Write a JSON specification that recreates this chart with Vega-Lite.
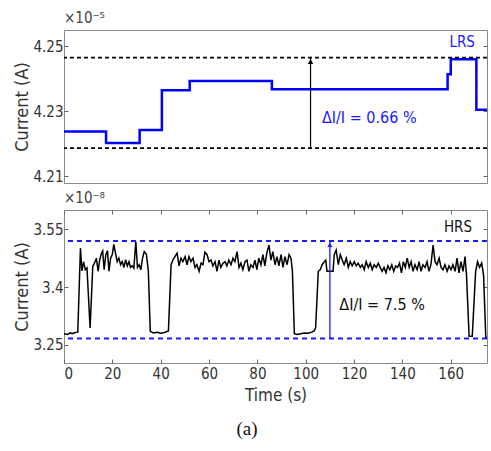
{
  "$schema": "https://vega.github.io/schema/vega-lite/v6.json",
  "padding": {"left": 13, "top": 10, "right": 1, "bottom": 5},
  "spacing": 5,
  "title": {"text": "(a)", "orient": "bottom", "font": "Liberation Serif", "fontSize": 19, "fontWeight": "normal", "color": "#111", "anchor": "middle", "dx": -4, "offset": 16},
  "datasets": {
    "lrs": [
      {"t": 0, "I": 4.2238}, {"t": 17.4, "I": 4.2203}, {"t": 31.3, "I": 4.2243}, {"t": 40.5, "I": 4.2365},
      {"t": 52, "I": 4.2393}, {"t": 86, "I": 4.2368}, {"t": 158.7, "I": 4.2414}, {"t": 160, "I": 4.246},
      {"t": 170.6, "I": 4.2305}, {"t": 175, "I": 4.2305}
    ],
    "hrs": [
      {"t": 0, "I": 3.279}, {"t": 1.5, "I": 3.277}, {"t": 2.5, "I": 3.281}, {"t": 3.5, "I": 3.279}, {"t": 4.5, "I": 3.282},
      {"t": 5.7, "I": 3.283}, {"t": 6.8, "I": 3.501}, {"t": 7.4, "I": 3.442}, {"t": 8.1, "I": 3.466}, {"t": 8.8, "I": 3.445},
      {"t": 9.5, "I": 3.45}, {"t": 10.8, "I": 3.294}, {"t": 11.9, "I": 3.454}, {"t": 12.6, "I": 3.462}, {"t": 13.4, "I": 3.475},
      {"t": 14.1, "I": 3.441}, {"t": 14.8, "I": 3.471}, {"t": 15.5, "I": 3.488}, {"t": 16.0, "I": 3.494}, {"t": 16.6, "I": 3.445},
      {"t": 17.3, "I": 3.484}, {"t": 18.0, "I": 3.494}, {"t": 18.6, "I": 3.441}, {"t": 19.3, "I": 3.475}, {"t": 20.0, "I": 3.485},
      {"t": 20.6, "I": 3.511}, {"t": 21.3, "I": 3.488}, {"t": 22.0, "I": 3.466}, {"t": 22.7, "I": 3.475}, {"t": 23.4, "I": 3.458},
      {"t": 24.1, "I": 3.466}, {"t": 24.8, "I": 3.451}, {"t": 25.5, "I": 3.471}, {"t": 26.2, "I": 3.455}, {"t": 26.9, "I": 3.466},
      {"t": 27.5, "I": 3.451}, {"t": 28.2, "I": 3.455}, {"t": 28.9, "I": 3.449}, {"t": 29.7, "I": 3.518}, {"t": 30.4, "I": 3.451},
      {"t": 31.1, "I": 3.458}, {"t": 31.8, "I": 3.445}, {"t": 32.5, "I": 3.475}, {"t": 33.2, "I": 3.492}, {"t": 34.1, "I": 3.485},
      {"t": 34.9, "I": 3.441}, {"t": 35.7, "I": 3.285}, {"t": 37.0, "I": 3.281}, {"t": 38.5, "I": 3.283}, {"t": 40.0, "I": 3.28},
      {"t": 41.5, "I": 3.282}, {"t": 43.2, "I": 3.286}, {"t": 44.3, "I": 3.458}, {"t": 45.1, "I": 3.471}, {"t": 45.9, "I": 3.479},
      {"t": 46.8, "I": 3.488}, {"t": 47.6, "I": 3.455}, {"t": 48.4, "I": 3.475}, {"t": 49.2, "I": 3.466}, {"t": 50.1, "I": 3.479},
      {"t": 50.9, "I": 3.458}, {"t": 51.7, "I": 3.479}, {"t": 52.5, "I": 3.466}, {"t": 53.4, "I": 3.475}, {"t": 54.2, "I": 3.451},
      {"t": 55.0, "I": 3.458}, {"t": 55.9, "I": 3.441}, {"t": 56.7, "I": 3.462}, {"t": 57.5, "I": 3.458}, {"t": 58.3, "I": 3.4905},
      {"t": 59.2, "I": 3.484}, {"t": 60.0, "I": 3.466}, {"t": 60.8, "I": 3.47}, {"t": 61.6, "I": 3.455}, {"t": 62.5, "I": 3.466},
      {"t": 63.3, "I": 3.441}, {"t": 64.1, "I": 3.47}, {"t": 64.9, "I": 3.451}, {"t": 65.8, "I": 3.462}, {"t": 66.6, "I": 3.466},
      {"t": 67.4, "I": 3.455}, {"t": 68.2, "I": 3.47}, {"t": 69.1, "I": 3.458}, {"t": 69.9, "I": 3.475}, {"t": 70.7, "I": 3.466},
      {"t": 71.6, "I": 3.492}, {"t": 72.4, "I": 3.451}, {"t": 73.2, "I": 3.462}, {"t": 74.0, "I": 3.445}, {"t": 74.9, "I": 3.466},
      {"t": 75.7, "I": 3.47}, {"t": 76.5, "I": 3.441}, {"t": 77.3, "I": 3.458}, {"t": 78.2, "I": 3.451}, {"t": 79.0, "I": 3.47},
      {"t": 79.8, "I": 3.445}, {"t": 80.6, "I": 3.475}, {"t": 81.5, "I": 3.458}, {"t": 82.3, "I": 3.484}, {"t": 83.1, "I": 3.455},
      {"t": 83.9, "I": 3.488}, {"t": 84.8, "I": 3.509}, {"t": 85.6, "I": 3.47}, {"t": 86.4, "I": 3.492}, {"t": 87.3, "I": 3.458},
      {"t": 88.1, "I": 3.479}, {"t": 88.9, "I": 3.455}, {"t": 89.8, "I": 3.484}, {"t": 90.6, "I": 3.451}, {"t": 91.4, "I": 3.479},
      {"t": 92.3, "I": 3.458}, {"t": 93.1, "I": 3.484}, {"t": 93.9, "I": 3.475}, {"t": 94.5, "I": 3.441}, {"t": 95.3, "I": 3.279},
      {"t": 96.5, "I": 3.277}, {"t": 98.0, "I": 3.279}, {"t": 99.5, "I": 3.281}, {"t": 101.0, "I": 3.28}, {"t": 102.5, "I": 3.283},
      {"t": 103.5, "I": 3.286}, {"t": 104.1, "I": 3.294}, {"t": 105.2, "I": 3.441}, {"t": 106.0, "I": 3.445}, {"t": 106.8, "I": 3.458},
      {"t": 107.7, "I": 3.466}, {"t": 108.3, "I": 3.47}, {"t": 108.8, "I": 3.441}, {"t": 111.3, "I": 3.441}, {"t": 111.8, "I": 3.484},
      {"t": 112.6, "I": 3.496}, {"t": 113.5, "I": 3.458}, {"t": 114.3, "I": 3.484}, {"t": 115.1, "I": 3.47}, {"t": 115.9, "I": 3.458},
      {"t": 116.8, "I": 3.475}, {"t": 117.6, "I": 3.451}, {"t": 118.4, "I": 3.466}, {"t": 119.2, "I": 3.455}, {"t": 120.1, "I": 3.466},
      {"t": 120.9, "I": 3.455}, {"t": 121.7, "I": 3.462}, {"t": 122.6, "I": 3.451}, {"t": 123.4, "I": 3.458}, {"t": 124.2, "I": 3.445},
      {"t": 125.0, "I": 3.466}, {"t": 125.9, "I": 3.451}, {"t": 126.7, "I": 3.462}, {"t": 127.5, "I": 3.445}, {"t": 128.3, "I": 3.458},
      {"t": 129.2, "I": 3.451}, {"t": 130.0, "I": 3.462}, {"t": 130.8, "I": 3.451}, {"t": 131.6, "I": 3.441}, {"t": 132.4, "I": 3.451},
      {"t": 133.2, "I": 3.437}, {"t": 134.0, "I": 3.455}, {"t": 134.8, "I": 3.445}, {"t": 135.6, "I": 3.458}, {"t": 136.4, "I": 3.441},
      {"t": 137.2, "I": 3.455}, {"t": 138.0, "I": 3.451}, {"t": 138.8, "I": 3.462}, {"t": 139.6, "I": 3.437}, {"t": 140.4, "I": 3.466},
      {"t": 141.2, "I": 3.451}, {"t": 142.0, "I": 3.475}, {"t": 142.8, "I": 3.451}, {"t": 143.6, "I": 3.466}, {"t": 144.4, "I": 3.441},
      {"t": 145.2, "I": 3.458}, {"t": 146.1, "I": 3.445}, {"t": 146.9, "I": 3.466}, {"t": 147.7, "I": 3.441}, {"t": 148.5, "I": 3.458},
      {"t": 149.4, "I": 3.451}, {"t": 150.2, "I": 3.466}, {"t": 151.0, "I": 3.441}, {"t": 151.8, "I": 3.458}, {"t": 152.7, "I": 3.509},
      {"t": 153.5, "I": 3.466}, {"t": 154.3, "I": 3.458}, {"t": 155.2, "I": 3.475}, {"t": 156.0, "I": 3.451}, {"t": 156.8, "I": 3.445},
      {"t": 157.6, "I": 3.458}, {"t": 158.5, "I": 3.441}, {"t": 159.3, "I": 3.455}, {"t": 160.1, "I": 3.445}, {"t": 160.9, "I": 3.458},
      {"t": 161.8, "I": 3.441}, {"t": 162.6, "I": 3.475}, {"t": 163.4, "I": 3.437}, {"t": 164.2, "I": 3.466}, {"t": 165.1, "I": 3.441},
      {"t": 165.9, "I": 3.479}, {"t": 166.5, "I": 3.434}, {"t": 167.6, "I": 3.2725}, {"t": 168.9, "I": 3.2725}, {"t": 170.3, "I": 3.441},
      {"t": 171.1, "I": 3.466}, {"t": 171.9, "I": 3.451}, {"t": 172.8, "I": 3.462}, {"t": 173.6, "I": 3.43}, {"t": 174.5, "I": 3.268},
      {"t": 175, "I": 3.27}
    ],
    "lrsLevels": [{"I": 4.2465}, {"I": 4.2187}],
    "lrsArrow": [{"t": 102, "lo": 4.2187, "hi": 4.2465}],
    "lrsText": [{"t": 106.7, "I": 4.2279, "label": "ΔI/I = 0.66 %"}],
    "lrsName": [{"t": 170, "I": 4.2512, "label": "LRS"}],
    "hrsLevels": [{"I": 3.5197}, {"I": 3.2663}],
    "hrsArrow": [{"t": 110, "lo": 3.2663, "hi": 3.5197}],
    "hrsText": [{"t": 113.9, "I": 3.3527, "label": "ΔI/I = 7.5 %"}],
    "hrsName": [{"t": 168.8, "I": 3.557, "label": "HRS"}]
  },
  "config": {
    "view": {"stroke": "#8a8a8a", "strokeWidth": 1},
    "axis": {
      "domain": false, "grid": false, "tickColor": "#666", "tickSize": -4,
      "labelFont": "DejaVu Sans Condensed, DejaVu Sans", "labelFontSize": 15, "labelColor": "#333", "labelPadding": 5,
      "titleFont": "DejaVu Sans Condensed, DejaVu Sans", "titleFontSize": 18, "titleColor": "#333", "titleFontWeight": "normal"
    },
    "axisY": {"titlePadding": 1},
    "axisX": {"titleFontSize": 17, "titlePadding": 6, "labelPadding": 7},
    "title": {"font": "DejaVu Sans Condensed, DejaVu Sans", "fontSize": 15, "fontWeight": "normal", "color": "#444"}
  },
  "vconcat": [
    {
      "width": 423, "height": 153,
      "title": {"text": "×10⁻⁵", "anchor": "start", "frame": "group", "offset": 4},
      "resolve": {"axis": {"y": "independent"}},
      "layer": [
        {
          "data": {"name": "lrs"},
          "mark": {"type": "line", "interpolate": "step-after", "color": "#0000ff", "strokeWidth": 2.5, "clip": true},
          "encoding": {
            "x": {"field": "t", "type": "quantitative", "scale": {"domain": [0, 175], "nice": false}, "axis": null},
            "y": {"field": "I", "type": "quantitative", "scale": {"domain": [4.208, 4.255], "nice": false, "zero": false},
                  "axis": {"values": [4.21, 4.23, 4.25], "format": ".2f", "title": "Current (A)"}}
          }
        },
        {
          "data": {"name": "lrsLevels"},
          "mark": {"type": "rule", "color": "#000", "strokeWidth": 1.6, "strokeDash": [4, 3]},
          "encoding": {
            "y": {"field": "I", "type": "quantitative", "axis": {"orient": "right", "values": [4.21, 4.23, 4.25], "labels": false, "title": null}}
          }
        },
        {
          "data": {"name": "lrsArrow"},
          "mark": {"type": "rule", "color": "#000", "strokeWidth": 1.2},
          "encoding": {
            "x": {"field": "t", "type": "quantitative"},
            "y": {"field": "lo", "type": "quantitative", "axis": null},
            "y2": {"field": "hi"}
          }
        },
        {
          "data": {"name": "lrsArrow"},
          "mark": {"type": "point", "shape": "triangle-up", "filled": true, "color": "#000", "size": 30, "opacity": 1, "yOffset": 4},
          "encoding": {
            "x": {"field": "t", "type": "quantitative"},
            "y": {"field": "hi", "type": "quantitative", "axis": null}
          }
        },
        {
          "data": {"name": "lrsText"},
          "mark": {"type": "text", "align": "left", "baseline": "middle", "color": "#1a1aff", "fontSize": 16, "font": "DejaVu Sans Condensed, DejaVu Sans"},
          "encoding": {
            "x": {"field": "t", "type": "quantitative"},
            "y": {"field": "I", "type": "quantitative", "axis": null},
            "text": {"field": "label"}
          }
        },
        {
          "data": {"name": "lrsName"},
          "mark": {"type": "text", "align": "right", "baseline": "middle", "color": "#1a1aff", "fontSize": 15, "font": "DejaVu Sans Condensed, DejaVu Sans"},
          "encoding": {
            "x": {"field": "t", "type": "quantitative"},
            "y": {"field": "I", "type": "quantitative", "axis": null},
            "text": {"field": "label"}
          }
        }
      ]
    },
    {
      "width": 423, "height": 153,
      "title": {"text": "×10⁻⁸", "anchor": "start", "frame": "group", "offset": 4},
      "resolve": {"axis": {"y": "independent", "x": "independent"}},
      "layer": [
        {
          "data": {"name": "hrs"},
          "mark": {"type": "line", "color": "#000", "strokeWidth": 1.5, "clip": true},
          "encoding": {
            "x": {"field": "t", "type": "quantitative", "scale": {"domain": [0, 175], "nice": false},
                  "axis": {"values": [0, 20, 40, 60, 80, 100, 120, 140, 160], "title": "Time (s)"}},
            "y": {"field": "I", "type": "quantitative", "scale": {"domain": [3.203, 3.6], "nice": false, "zero": false},
                  "axis": {"values": [3.25, 3.4, 3.55], "format": ".2~f", "title": "Current (A)"}}
          }
        },
        {
          "data": {"name": "hrsLevels"},
          "mark": {"type": "rule", "color": "#1a1aff", "strokeWidth": 2, "strokeDash": [5, 4]},
          "encoding": {
            "y": {"field": "I", "type": "quantitative", "axis": {"orient": "right", "values": [3.25, 3.4, 3.55], "labels": false, "title": null}}
          }
        },
        {
          "data": {"name": "hrsArrow"},
          "mark": {"type": "rule", "color": "#1a1aff", "strokeWidth": 1.3},
          "encoding": {
            "x": {"field": "t", "type": "quantitative", "axis": {"orient": "top", "values": [0, 20, 40, 60, 80, 100, 120, 140, 160], "labels": false, "title": null}},
            "y": {"field": "lo", "type": "quantitative", "axis": null},
            "y2": {"field": "hi"}
          }
        },
        {
          "data": {"name": "hrsArrow"},
          "mark": {"type": "point", "shape": "triangle-up", "filled": true, "color": "#1a1aff", "size": 25, "opacity": 1, "yOffset": 4},
          "encoding": {
            "x": {"field": "t", "type": "quantitative", "axis": null},
            "y": {"field": "hi", "type": "quantitative", "axis": null}
          }
        },
        {
          "data": {"name": "hrsText"},
          "mark": {"type": "text", "align": "left", "baseline": "middle", "color": "#111", "fontSize": 16, "font": "DejaVu Sans Condensed, DejaVu Sans"},
          "encoding": {
            "x": {"field": "t", "type": "quantitative", "axis": null},
            "y": {"field": "I", "type": "quantitative", "axis": null},
            "text": {"field": "label"}
          }
        },
        {
          "data": {"name": "hrsName"},
          "mark": {"type": "text", "align": "right", "baseline": "middle", "color": "#111", "fontSize": 15, "font": "DejaVu Sans Condensed, DejaVu Sans"},
          "encoding": {
            "x": {"field": "t", "type": "quantitative", "axis": null},
            "y": {"field": "I", "type": "quantitative", "axis": null},
            "text": {"field": "label"}
          }
        }
      ]
    }
  ]
}
